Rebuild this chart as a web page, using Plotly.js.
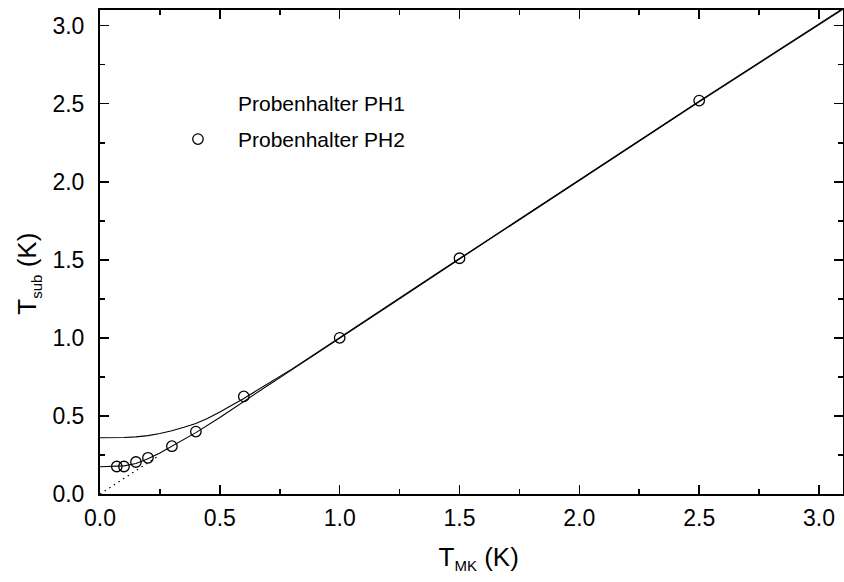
<!DOCTYPE html>
<html>
<head>
<meta charset="utf-8">
<script src="https://cdn.plot.ly/plotly-3.0.1.min.js"></script>
<style>html,body{margin:0;padding:0;background:#fff;}#chart{width:844px;height:582px;}</style>
</head>
<body>
<div id="chart"></div>
<script>
// Messpunkte Probenhalter PH2
const ph2X = [0.07, 0.10, 0.15, 0.20, 0.30, 0.40, 0.60, 1.0, 1.5, 2.5];
const ph2Y = [0.176, 0.176, 0.205, 0.232, 0.306, 0.40, 0.625, 1.0, 1.51, 2.52];

// Kurve Probenhalter PH1 (obere durchgezogene Linie)
const ph1CurveX = [0, 0.05, 0.10, 0.15, 0.20, 0.25, 0.30, 0.35, 0.40, 0.45, 0.50, 0.60, 0.70, 0.80, 0.90, 1.0, 1.25, 1.5, 2.0, 2.5, 3.1];
const ph1CurveY = [0.36, 0.36, 0.362, 0.366, 0.374, 0.388, 0.405, 0.427, 0.452, 0.485, 0.525, 0.612, 0.705, 0.80, 0.90, 1.0, 1.255, 1.508, 2.012, 2.516, 3.11];

// Kurve Probenhalter PH2 (untere durchgezogene Linie)
const ph2CurveX = [0, 0.05, 0.10, 0.15, 0.20, 0.25, 0.30, 0.35, 0.40, 0.50, 0.60, 0.70, 0.80, 0.90, 1.0, 1.25, 1.5, 2.0, 2.5, 3.1];
const ph2CurveY = [0.175, 0.176, 0.18, 0.195, 0.225, 0.262, 0.305, 0.348, 0.393, 0.49, 0.595, 0.695, 0.795, 0.895, 0.997, 1.25, 1.505, 2.008, 2.512, 3.105];

// Gepunktete Diagonale T_sub = T_MK
const diagX = [0, 0.25];
const diagY = [0, 0.25];

const tickVals = [0, 0.5, 1.0, 1.5, 2.0, 2.5, 3.0];
const tickText = ['0.0', '0.5', '1.0', '1.5', '2.0', '2.5', '3.0'];

const font = 'Arial, "Liberation Sans", sans-serif';

const traces = [
  {x: diagX, y: diagY, mode: 'lines', line: {color: '#000', width: 1.2, dash: '1.5px,4px'}, showlegend: false, hoverinfo: 'skip'},
  {x: ph1CurveX, y: ph1CurveY, mode: 'lines', line: {color: '#000', width: 1.1}, showlegend: false},
  {x: ph2CurveX, y: ph2CurveY, mode: 'lines', line: {color: '#000', width: 1.1}, showlegend: false},
  {x: [null], y: [null], mode: 'none', name: 'Probenhalter PH1', legendgroup: 'a'},
  {x: ph2X, y: ph2Y, mode: 'markers', name: 'Probenhalter PH2', legendgroup: 'b',
   marker: {symbol: 'circle-open', size: 10.5, color: '#000', line: {width: 1.3, color: '#000'}}}
];

function axis(extra) {
  return Object.assign({
    tickmode: 'array', tickvals: tickVals, ticktext: tickText,
    ticks: 'inside', ticklen: 9, tickwidth: 1.6, tickcolor: '#000',
    minor: {ticks: 'inside', ticklen: 5, tickwidth: 1.6, dtick: 0.25, tickcolor: '#000'},
    showline: true, linewidth: 2, linecolor: '#000', mirror: 'ticks',
    showgrid: false, zeroline: false,
    tickfont: {family: font, size: 23, color: '#000'}
  }, extra);
}

const layout = {
  width: 844, height: 582,
  margin: {l: 100, r: 1, t: 10, b: 88},
  paper_bgcolor: '#fff', plot_bgcolor: '#fff',
  font: {family: font, color: '#000'},
  showlegend: true,
  legend: {x: 0.078, y: 0.85, xanchor: 'left', yanchor: 'top', bgcolor: 'rgba(0,0,0,0)',
           itemwidth: 70,
           font: {family: font, size: 21, color: '#000'}, tracegroupgap: 6, traceorder: 'grouped'},
  xaxis: axis({range: [0, 3.1], ticklabelstandoff: 2,
               title: {text: '&nbsp;&nbsp;T<sub><span style="font-size:15px">MK</span></sub> (K)', font: {family: font, size: 26}, standoff: 18}}),
  yaxis: axis({range: [0, 3.1], ticklabelstandoff: 9,
               title: {text: 'T<sub><span style="font-size:15px">sub</span></sub> (K)&nbsp;&nbsp;&nbsp;&nbsp;&nbsp;&nbsp;', font: {family: font, size: 26}, standoff: 8}})
};

Plotly.newPlot('chart', traces, layout, {displayModeBar: false, staticPlot: true});
</script>
</body>
</html>
